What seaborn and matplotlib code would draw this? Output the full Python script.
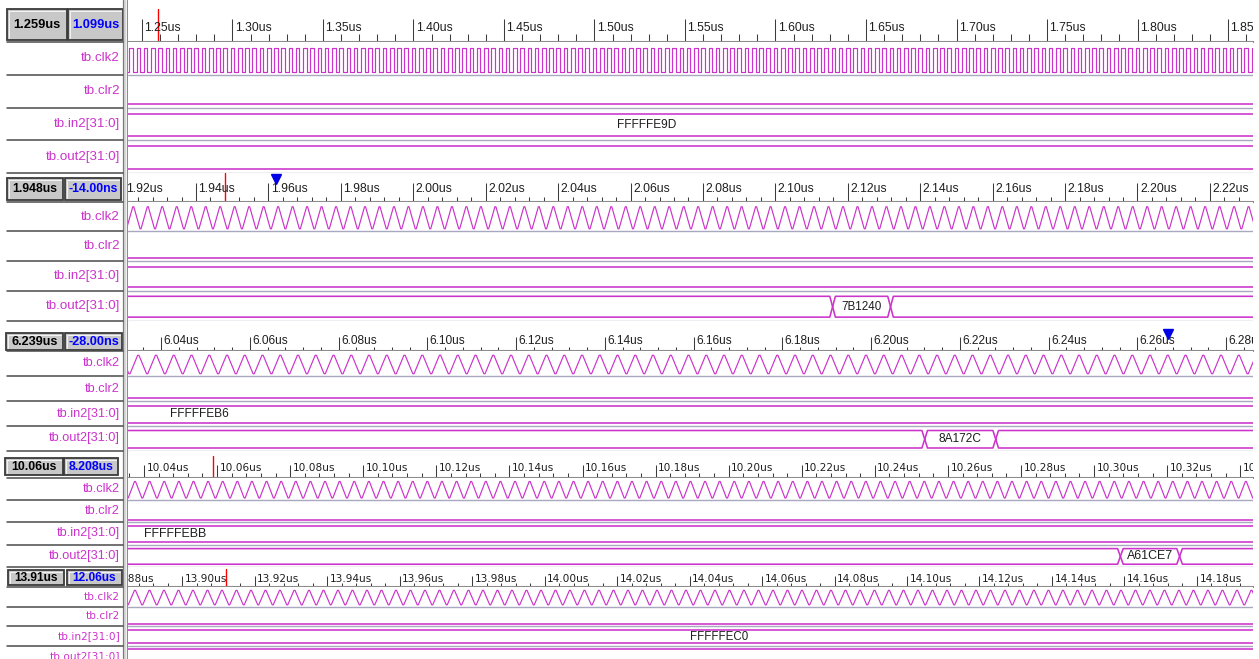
import numpy as np
import pandas as pd
import matplotlib
matplotlib.use("Agg")
import matplotlib.pyplot as plt
import matplotlib.transforms as mtransforms
from matplotlib import font_manager as fm
from matplotlib.patches import Rectangle
from matplotlib.ticker import MultipleLocator
import seaborn as sns

sns.set_theme(style="white")
plt.rcParams["font.family"] = ["Liberation Sans", "DejaVu Sans"]

# ---------------- waveform data (times in microseconds) ----------------
signal_names = ["tb.clk2", "tb.clr2", "tb.in2[31:0]", "tb.out2[31:0]"]

view_start = [1.24227, 1.92122, 6.03256, 10.03562, 13.88510]
view_end = [1.86381, 2.23190, 6.28608, 10.34349, 14.19545]
major_step = [0.05, 0.02, 0.02, 0.02, 0.02]
minor_divisions = [5, 5, 5, 5, 5]

cursor_time = [1.259, 1.948, 6.239, 10.059, 13.912]
cursor_label = ["1.259us", "1.948us", "6.239us", "10.06us", "13.91us"]
delta_label = ["1.099us", "-14.00ns", "-28.00ns", "8.208us", "12.06us"]
marker_time = [None, 1.962, 6.267, None, None]

clk_period = 0.004
clk_high_center = [1.2440, 1.92268, 6.03488, 10.03754, 13.88703]

in2_value = ["FFFFFE9D", None, "FFFFFEB6", "FFFFFEBB", "FFFFFEC0"]
in2_label_time = [1.5290, None, 6.0487, 10.0486, 14.0481]

out2_edges = [[], [2.1158, 2.1318], [6.2121, 6.2281], [10.3072, 10.3234], []]
out2_values = [[None], [None, "7B1240", None], [None, "8A172C", None],
               [None, "A61CE7", None], [None]]

# ---------------- layout (pixels) ----------------
W, H = 1259, 659
XW0, XW1 = 128, 1253
hdr_top = [0, 173, 322, 452, 568]
hdr_bot = [42, 201.7, 351, 477.7, 587]
row_h = [32.8, 29.75, 25.0, 22.3, 19.6]
btn_geom = [((7, 67), (68, 123), (9, 40)),
            ((7, 63), (65, 121), (178, 200)),
            ((6, 63), (65, 122), (333, 350)),
            ((5, 63), (64, 118), (458, 475)),
            ((8, 64), (67, 122), (570, 585))]
tick_base = [30.7, 192, 343.7, 471.3, 582.3]
major_len = [23, 19, 14, 13.5, 11]
minor_len = [8, 5.5, 4, 5, 4]
cursor_span = [(9, 40), (173, 200.7), None, (456, 477), (569, 586.7)]
marker_y = [None, 178.5, 333.5, None, None]


def fp(kind, size, weight="normal"):
    if kind == "verd":
        return fm.FontProperties(family=["DejaVu Sans"], size=size, weight=weight)
    return fm.FontProperties(family=["Liberation Sans", "DejaVu Sans"], size=size, weight=weight)


tick_fp = [fp("arial", 8.8), fp("arial", 8.8), fp("arial", 8.6), fp("verd", 7.6), fp("verd", 7.6)]
name_fp = [fp("arial", 9.6), fp("arial", 9.6), fp("arial", 9.2), fp("arial", 9.2), fp("verd", 7.6)]
btn_size = [9.3, 8.8, 9.1, 8.8, 8.6]
value_size = [8.6, 8.4, 8.6, 8.9, 8.3]

MAG = "#cc33cc"
GRID = "#a8a8c0"
TICK = "#3c3c3c"
TXT = "#1e1e1e"

# row geometry inside each waveform strip (fraction of a row)
CLK_HI, CLK_LO = 0.17, 0.91
BUS_TOP, BUS_BOT = 0.18, 0.88


def clock_frame(c0, period, t0, t1, top_flat, bottom_flat, row):
    slope = (1 - top_flat - bottom_flat) / 2 * period
    half_top = top_flat * period / 2
    k0 = int(np.floor((t0 - c0) / period)) - 1
    k1 = int(np.ceil((t1 - c0) / period)) + 1
    ts, ys = [], []
    for k in range(k0, k1 + 1):
        c = c0 + k * period
        ts += [c - half_top - slope, c - half_top, c + half_top, c + half_top + slope]
        ys += [row + CLK_LO, row + CLK_HI, row + CLK_HI, row + CLK_LO]
    return pd.DataFrame({"t": ts, "level": ys})


def bus_frame(edges, t0, t1, d, row):
    bounds = [t0 - 1.0] + list(edges) + [t1 + 1.0]
    top, bot = row + BUS_TOP, row + BUS_BOT
    mid = (top + bot) / 2
    recs = []
    for i in range(len(bounds) - 1):
        s, e = bounds[i], bounds[i + 1]
        for t, y in [(s, mid), (s + d, top), (e - d, top), (e, mid),
                     (e - d, bot), (s + d, bot), (s, mid)]:
            recs.append((i, t, y))
    return pd.DataFrame(recs, columns=["seg", "t", "level"]), bounds


fig = plt.figure(figsize=(W / 100, H / 100), dpi=100)
fig.patch.set_facecolor("white")

chrome = fig.add_axes([0, 0, 1, 1], zorder=0)
chrome.set_xlim(0, W)
chrome.set_ylim(H, 0)
chrome.axis("off")

# splitter between the name column and the waveform area
chrome.fill_betweenx([0, H], 123.5, 126.5, color="#d8d8d8", lw=0)
chrome.plot([123.5, 123.5], [0, H], color="#7c7c7c", lw=0.9)
chrome.plot([126.8, 126.8], [0, H], color="#8c8c8c", lw=0.9)

for p in range(5):
    ht, hb, rh = hdr_top[p], hdr_bot[p], row_h[p]
    pb = hb + 4 * rh
    t0, t1 = view_start[p], view_end[p]
    px_per_us = (XW1 - XW0) / (t1 - t0)

    # ---------- name column ----------
    (bx0, bx1), (cx0, cx1), (by0, by1) = btn_geom[p]
    for (x0, x1), txt, col in [((bx0, bx1), cursor_label[p], "black"),
                               ((cx0, cx1), delta_label[p], "#0000ff")]:
        chrome.add_patch(Rectangle((x0, by0), x1 - x0, by1 - by0,
                                   fc="#c8c8c8", ec="#3a3a3a", lw=1.3))
        chrome.plot([x0 + 1.6, x1 - 1.6], [by0 + 1.6, by0 + 1.6], color="#f4f4f4", lw=0.7)
        chrome.plot([x0 + 1.6, x0 + 1.6], [by0 + 1.6, by1 - 1.6], color="#f4f4f4", lw=0.7)
        chrome.text((x0 + x1) / 2, (by0 + by1) / 2 + 0.5, txt, ha="center", va="center",
                    fontproperties=fp("arial", btn_size[p], "bold"), color=col)
    for k in range(5):
        y = hb + k * rh
        chrome.plot([7, 123], [y, y], color="#4a4a4a", lw=1.1)
    for r, name in enumerate(signal_names):
        chrome.text(120, hb + (r + 0.5) * rh, name, ha="right", va="center",
                    color=MAG, fontproperties=name_fp[p])

    # ---------- time ruler ----------
    hax = fig.add_axes([XW0 / W, 1 - hb / H, (XW1 - XW0) / W, (hb - ht) / H], zorder=2)
    hax.set_facecolor("white")
    hax.set_xlim(t0, t1)
    hax.set_ylim(0, 1)
    hax.xaxis.set_major_locator(MultipleLocator(major_step[p]))
    hax.xaxis.set_minor_locator(MultipleLocator(major_step[p] / minor_divisions[p]))
    hax.tick_params(axis="x", which="major", direction="in", bottom=True, top=False,
                    length=major_len[p] * 0.72, width=0.75, color=TICK, labelbottom=False)
    hax.tick_params(axis="x", which="minor", direction="in", bottom=True, top=False,
                    length=minor_len[p] * 0.72, width=0.75, color=TICK)
    hax.set_yticks([])
    for s in ("top", "left", "right"):
        hax.spines[s].set_visible(False)
    hax.spines["bottom"].set_color("#8c8c8c")
    hax.spines["bottom"].set_linewidth(1.5)

    blend = mtransforms.blended_transform_factory(hax.transData, hax.transAxes)
    lab_trans = blend + mtransforms.ScaledTranslation(2.5 / 100, 0, fig.dpi_scale_trans)
    step = major_step[p]
    base = (hb - tick_base[p]) / (hb - ht)
    # labels whose text can reach into the ruler (a label left of it is partly hidden)
    t_first = t0 - 25 / px_per_us
    for k in range(int(np.floor(t0 / step)), int(np.ceil(t1 / step)) + 1):
        t = k * step
        if t < t_first or t > t1:
            continue
        hax.text(t, base, f"{t:.2f}us", transform=lab_trans, ha="left", va="baseline",
                 fontproperties=tick_fp[p], color=TXT, clip_on=True)

    if cursor_span[p] is not None:
        y0, y1 = cursor_span[p]
        hax.axvline(cursor_time[p], ymin=(hb - y1) / (hb - ht), ymax=(hb - y0) / (hb - ht),
                    color="#ff0000", lw=1.0)
    if marker_time[p] is not None:
        hax.plot([marker_time[p]], [(hb - marker_y[p]) / (hb - ht)], transform=blend,
                 marker="v", ms=7, color="#0000e6", ls="none", clip_on=False)

    # ---------- waveforms ----------
    wax = fig.add_axes([XW0 / W, 1 - pb / H, (XW1 - XW0) / W, (pb - hb) / H], zorder=2)
    wax.set_facecolor("white")
    for r in range(1, 5):
        wax.axhline(r, color=GRID, lw=1.0, zorder=1)

    if p == 0:
        clk = clock_frame(clk_high_center[p], clk_period, t0, t1, 0.5, 0.5, 0)
    else:
        clk = clock_frame(clk_high_center[p], clk_period, t0, t1, 0.07, 0.07, 0)
    sns.lineplot(data=clk, x="t", y="level", estimator=None, sort=False,
                 color=MAG, linewidth=0.85, ax=wax, legend=False)

    clr = pd.DataFrame({"t": [t0 - 1.0, t1 + 1.0], "level": [1 + BUS_BOT, 1 + BUS_BOT]})
    sns.lineplot(data=clr, x="t", y="level", estimator=None, sort=False,
                 color=MAG, linewidth=1.15, ax=wax, legend=False)

    d = 2.8 / px_per_us
    in2_df, _ = bus_frame([], t0, t1, d, 2)
    sns.lineplot(data=in2_df, x="t", y="level", units="seg", estimator=None, sort=False,
                 color=MAG, linewidth=1.15, ax=wax, legend=False)
    if in2_value[p] is not None:
        wax.text(in2_label_time[p], 2 + (BUS_TOP + BUS_BOT) / 2, in2_value[p],
                 ha="center", va="center", color=TXT,
                 fontproperties=fp("arial", value_size[p]))

    out_df, bounds = bus_frame(out2_edges[p], t0, t1, d, 3)
    sns.lineplot(data=out_df, x="t", y="level", units="seg", estimator=None, sort=False,
                 color=MAG, linewidth=1.15, ax=wax, legend=False)
    for i, val in enumerate(out2_values[p]):
        if val is not None:
            wax.text((bounds[i] + bounds[i + 1]) / 2, 3 + (BUS_TOP + BUS_BOT) / 2, val,
                     ha="center", va="center", color=TXT,
                     fontproperties=fp("arial", value_size[p]))

    wax.set_xlim(t0, t1)
    wax.set_ylim(4, 0)
    wax.set_xticks([])
    wax.set_yticks([])
    wax.set_xlabel("")
    wax.set_ylabel("")
    for s in wax.spines.values():
        s.set_visible(False)

fig.savefig("out.png", dpi=100, facecolor="white")
